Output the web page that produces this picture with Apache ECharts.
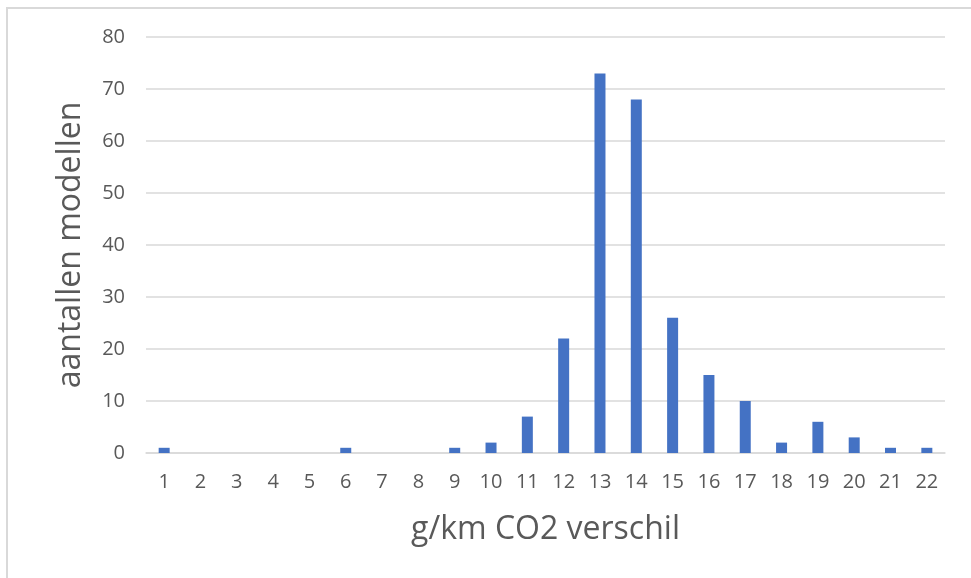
<!DOCTYPE html>
<html>
<head>
<meta charset="utf-8">
<script src="https://cdn.jsdelivr.net/npm/echarts@6/dist/echarts.min.js"></script>
<style>
html,body{margin:0;padding:0;background:#fff;}
#main{width:971px;height:578px;}
</style>
</head>
<body>
<div id="main"></div>
<script>
const categories = ['1','2','3','4','5','6','7','8','9','10','11','12','13','14','15','16','17','18','19','20','21','22'];
const counts = [1,0,0,0,0,1,0,0,1,2,7,22,73,68,26,15,10,2,6,3,1,1];
const yTicks = {min:0, max:80, interval:10};
const xTitle = 'g/km CO2 verschil';
const yTitle = 'aantallen modellen';

const chart = echarts.init(document.getElementById('main'), null, {renderer:'canvas'});
const font = '"Open Sans", sans-serif';
chart.setOption({
  animation:false,
  backgroundColor:'#fff',
  graphic:[{
    type:'polyline',
    shape:{points:[[7,600],[7,8],[980,8]]},
    style:{stroke:'#d9d9d9', lineWidth:2, fill:null},
    silent:true
  }],
  grid:{left:146, right:26, top:37, bottom:125},
  xAxis:{
    type:'category',
    data:categories,
    name:xTitle,
    nameLocation:'middle',
    nameGap:61,
    nameTextStyle:{fontSize:32, color:'#595959', fontFamily:font},
    axisLine:{show:true, lineStyle:{color:'#d9d9d9', width:1.5}},
    axisTick:{show:false},
    axisLabel:{fontSize:20, color:'#595959', margin:19, fontFamily:font, interval:0}
  },
  yAxis:{
    type:'value',
    min:yTicks.min, max:yTicks.max, interval:yTicks.interval,
    name:yTitle,
    nameLocation:'middle',
    nameGap:59,
    nameTextStyle:{fontSize:32, color:'#595959', fontFamily:font},
    axisLine:{show:false},
    axisTick:{show:false},
    splitLine:{lineStyle:{color:'#d9d9d9', width:1.5}},
    axisLabel:{fontSize:20, color:'#595959', margin:21, fontFamily:font}
  },
  series:[{
    type:'bar',
    data:counts,
    barWidth:11,
    itemStyle:{color:'#4472C4'}
  }]
});
</script>
</body>
</html>
